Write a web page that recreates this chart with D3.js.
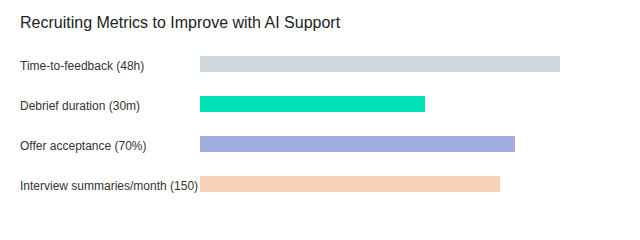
<!DOCTYPE html>
<html>
<head>
<meta charset="utf-8">
<script src="https://cdn.jsdelivr.net/npm/d3@7"></script>
<style>
  body { margin: 0; background: #fff; }
  svg { font-family: "Liberation Sans", Arial, sans-serif; }
</style>
</head>
<body>
<svg id="chart" width="640" height="240"></svg>
<script>
// chart data
var metrics = ["Time-to-feedback (48h)", "Debrief duration (30m)", "Offer acceptance (70%)", "Interview summaries/month (150)"];
var scores = [80, 50, 70, 66.7];
var colors = ["#cfd8dc", "#00e2b5", "#a3aee0", "#f9d0b8"];

var svg = d3.select("#chart");

// title
svg.append("text")
    .attr("x", 20)
    .attr("y", 28)
    .attr("font-size", 16)
    .attr("fill", "#222")
    .text("Recruiting Metrics to Improve with AI Support");

var x = d3.scaleLinear().domain([0, 100]).range([200, 650]);
var y = d3.scaleBand()
    .domain(metrics)
    .range([44, 204])
    .paddingInner(0.6)
    .paddingOuter(0.3);

// bars
svg.append("g")
    .selectAll("rect")
    .data(metrics)
    .enter()
    .append("rect")
    .attr("x", x(0))
    .attr("y", (d) => y(d))
    .attr("width", (d, i) => x(scores[i]) - x(0))
    .attr("height", y.bandwidth())
    .style("fill", (d, i) => colors[i]);

// category labels
svg.append("g")
    .selectAll("text")
    .data(metrics)
    .enter()
    .append("text")
    .attr("x", 20)
    .attr("y", (d) => y(d) + y.bandwidth() / 2)
    .attr("dy", "0.48em")
    .attr("font-size", 12)
    .attr("fill", "#333")
    .text((d) => d);
</script>
</body>
</html>
